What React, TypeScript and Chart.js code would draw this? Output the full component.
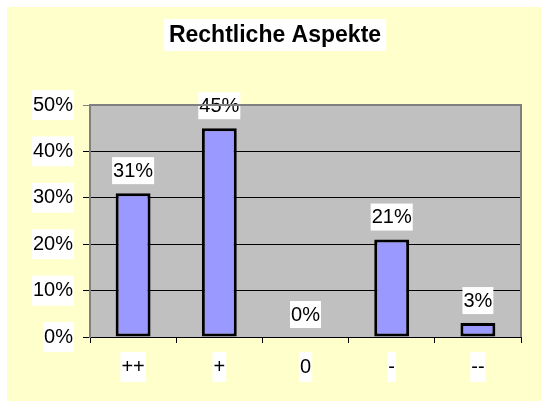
import React, { useEffect, useRef } from "react";
import { Chart, registerables } from "chart.js";
Chart.register(...registerables);

const title = "Rechtliche Aspekte";
const categories = ["++", "+", "0", "-", "--"];
const values = [31, 45, 0, 21, 3];
const yMin = 0;
const yMax = 50;
const yStep = 10;

const FONT = "Arial, 'Liberation Sans', sans-serif";

const deco = {
  id: "deco",
  beforeDraw(chart: any) {
    const { ctx, chartArea: a } = chart;
    ctx.save();
    ctx.fillStyle = "#C0C0C0";
    ctx.fillRect(a.left, a.top, a.right - a.left, a.bottom - a.top);
    ctx.restore();
  },
  afterDatasetsDraw(chart: any) {
    const { ctx } = chart;
    const meta = chart.getDatasetMeta(0);
    ctx.save();
    ctx.font = `20px ${FONT}`;
    ctx.textAlign = "center";
    ctx.textBaseline = "middle";
    meta.data.forEach((bar: any, i: number) => {
      const txt = `${values[i]}%`;
      const w = ctx.measureText(txt).width;
      const cx = bar.x;
      const cy = bar.y - 23;
      ctx.fillStyle = "#FFFFFF";
      ctx.fillRect(cx - w / 2 - 1, cy - 13, w + 2, 27);
      ctx.fillStyle = "#000000";
      ctx.fillText(txt, cx, cy + 1);
    });
    ctx.restore();
  },
  afterDraw(chart: any) {
    const { ctx, chartArea: a } = chart;
    ctx.save();
    ctx.strokeStyle = "#808080";
    ctx.lineWidth = 2;
    ctx.beginPath();
    ctx.moveTo(a.left, a.top);
    ctx.lineTo(a.right, a.top);
    ctx.lineTo(a.right, a.bottom);
    ctx.stroke();
    // title
    ctx.font = `bold 23px ${FONT}`;
    ctx.textAlign = "center";
    ctx.textBaseline = "middle";
    const w = ctx.measureText(title).width;
    const cx = chart.width / 2 + 1;
    const cy = 28;
    ctx.fillStyle = "#FFFFFF";
    ctx.fillRect(cx - w / 2 - 5, cy - 16, w + 10, 32);
    ctx.fillStyle = "#000000";
    ctx.fillText(title, cx, cy + 1);
    ctx.restore();
  },
};

export default function App() {
  const ref = useRef<HTMLCanvasElement>(null);
  useEffect(() => {
    if (!ref.current) return;
    const chart = new Chart(ref.current, {
      type: "bar",
      data: {
        labels: categories,
        datasets: [
          {
            data: values,
            backgroundColor: "#9999FF",
            borderColor: "#000000",
            borderWidth: 3,
            borderSkipped: false,
            categoryPercentage: 1,
            barPercentage: 0.405,
          },
        ],
      },
      options: {
        animation: false,
        responsive: false,
        layout: { padding: { left: 0, right: 20, top: 98, bottom: 0 } },
        plugins: {
          legend: { display: false },
          title: { display: false },
          tooltip: { enabled: false },
        },
        scales: {
          x: {
            offset: true,
            grid: {
              offset: true,
              drawOnChartArea: false,
              drawTicks: true,
              tickLength: 6,
              color: "#000000",
            },
            border: { color: "#000000", width: 1 },
            ticks: {
              color: "#000000",
              font: { family: FONT, size: 20 },
              padding: 12,
              showLabelBackdrop: true,
              backdropColor: "#FFFFFF",
              backdropPadding: { top: 3, bottom: 3, left: 1, right: 1 },
            },
            afterFit(scale: any) {
              scale.height = 64;
            },
          },
          y: {
            min: yMin,
            max: yMax,
            grid: {
              color: (c: any) => (c.tick && c.tick.value === yMax ? "#808080" : "#000000"),
              tickLength: 7,
              drawTicks: true,
            },
            border: { color: "#808080", width: 2 },
            ticks: {
              stepSize: yStep,
              color: "#000000",
              font: { family: FONT, size: 20 },
              padding: 10,
              callback: (v: any) => `${v}%`,
              showLabelBackdrop: true,
              backdropColor: "#FFFFFF",
              backdropPadding: { top: 3, bottom: 3, left: 1, right: 1 },
            },
            afterFit(scale: any) {
              scale.width = 83;
            },
          },
        },
      },
      plugins: [deco],
    });
    return () => chart.destroy();
  }, []);
  return (
    <div
      style={{
        position: "absolute",
        left: 7,
        top: 7,
        width: 534,
        height: 394,
        background: "#FFFFCC",
      }}
    >
      <canvas ref={ref} width={534} height={394} style={{ display: "block" }} />
    </div>
  );
}
